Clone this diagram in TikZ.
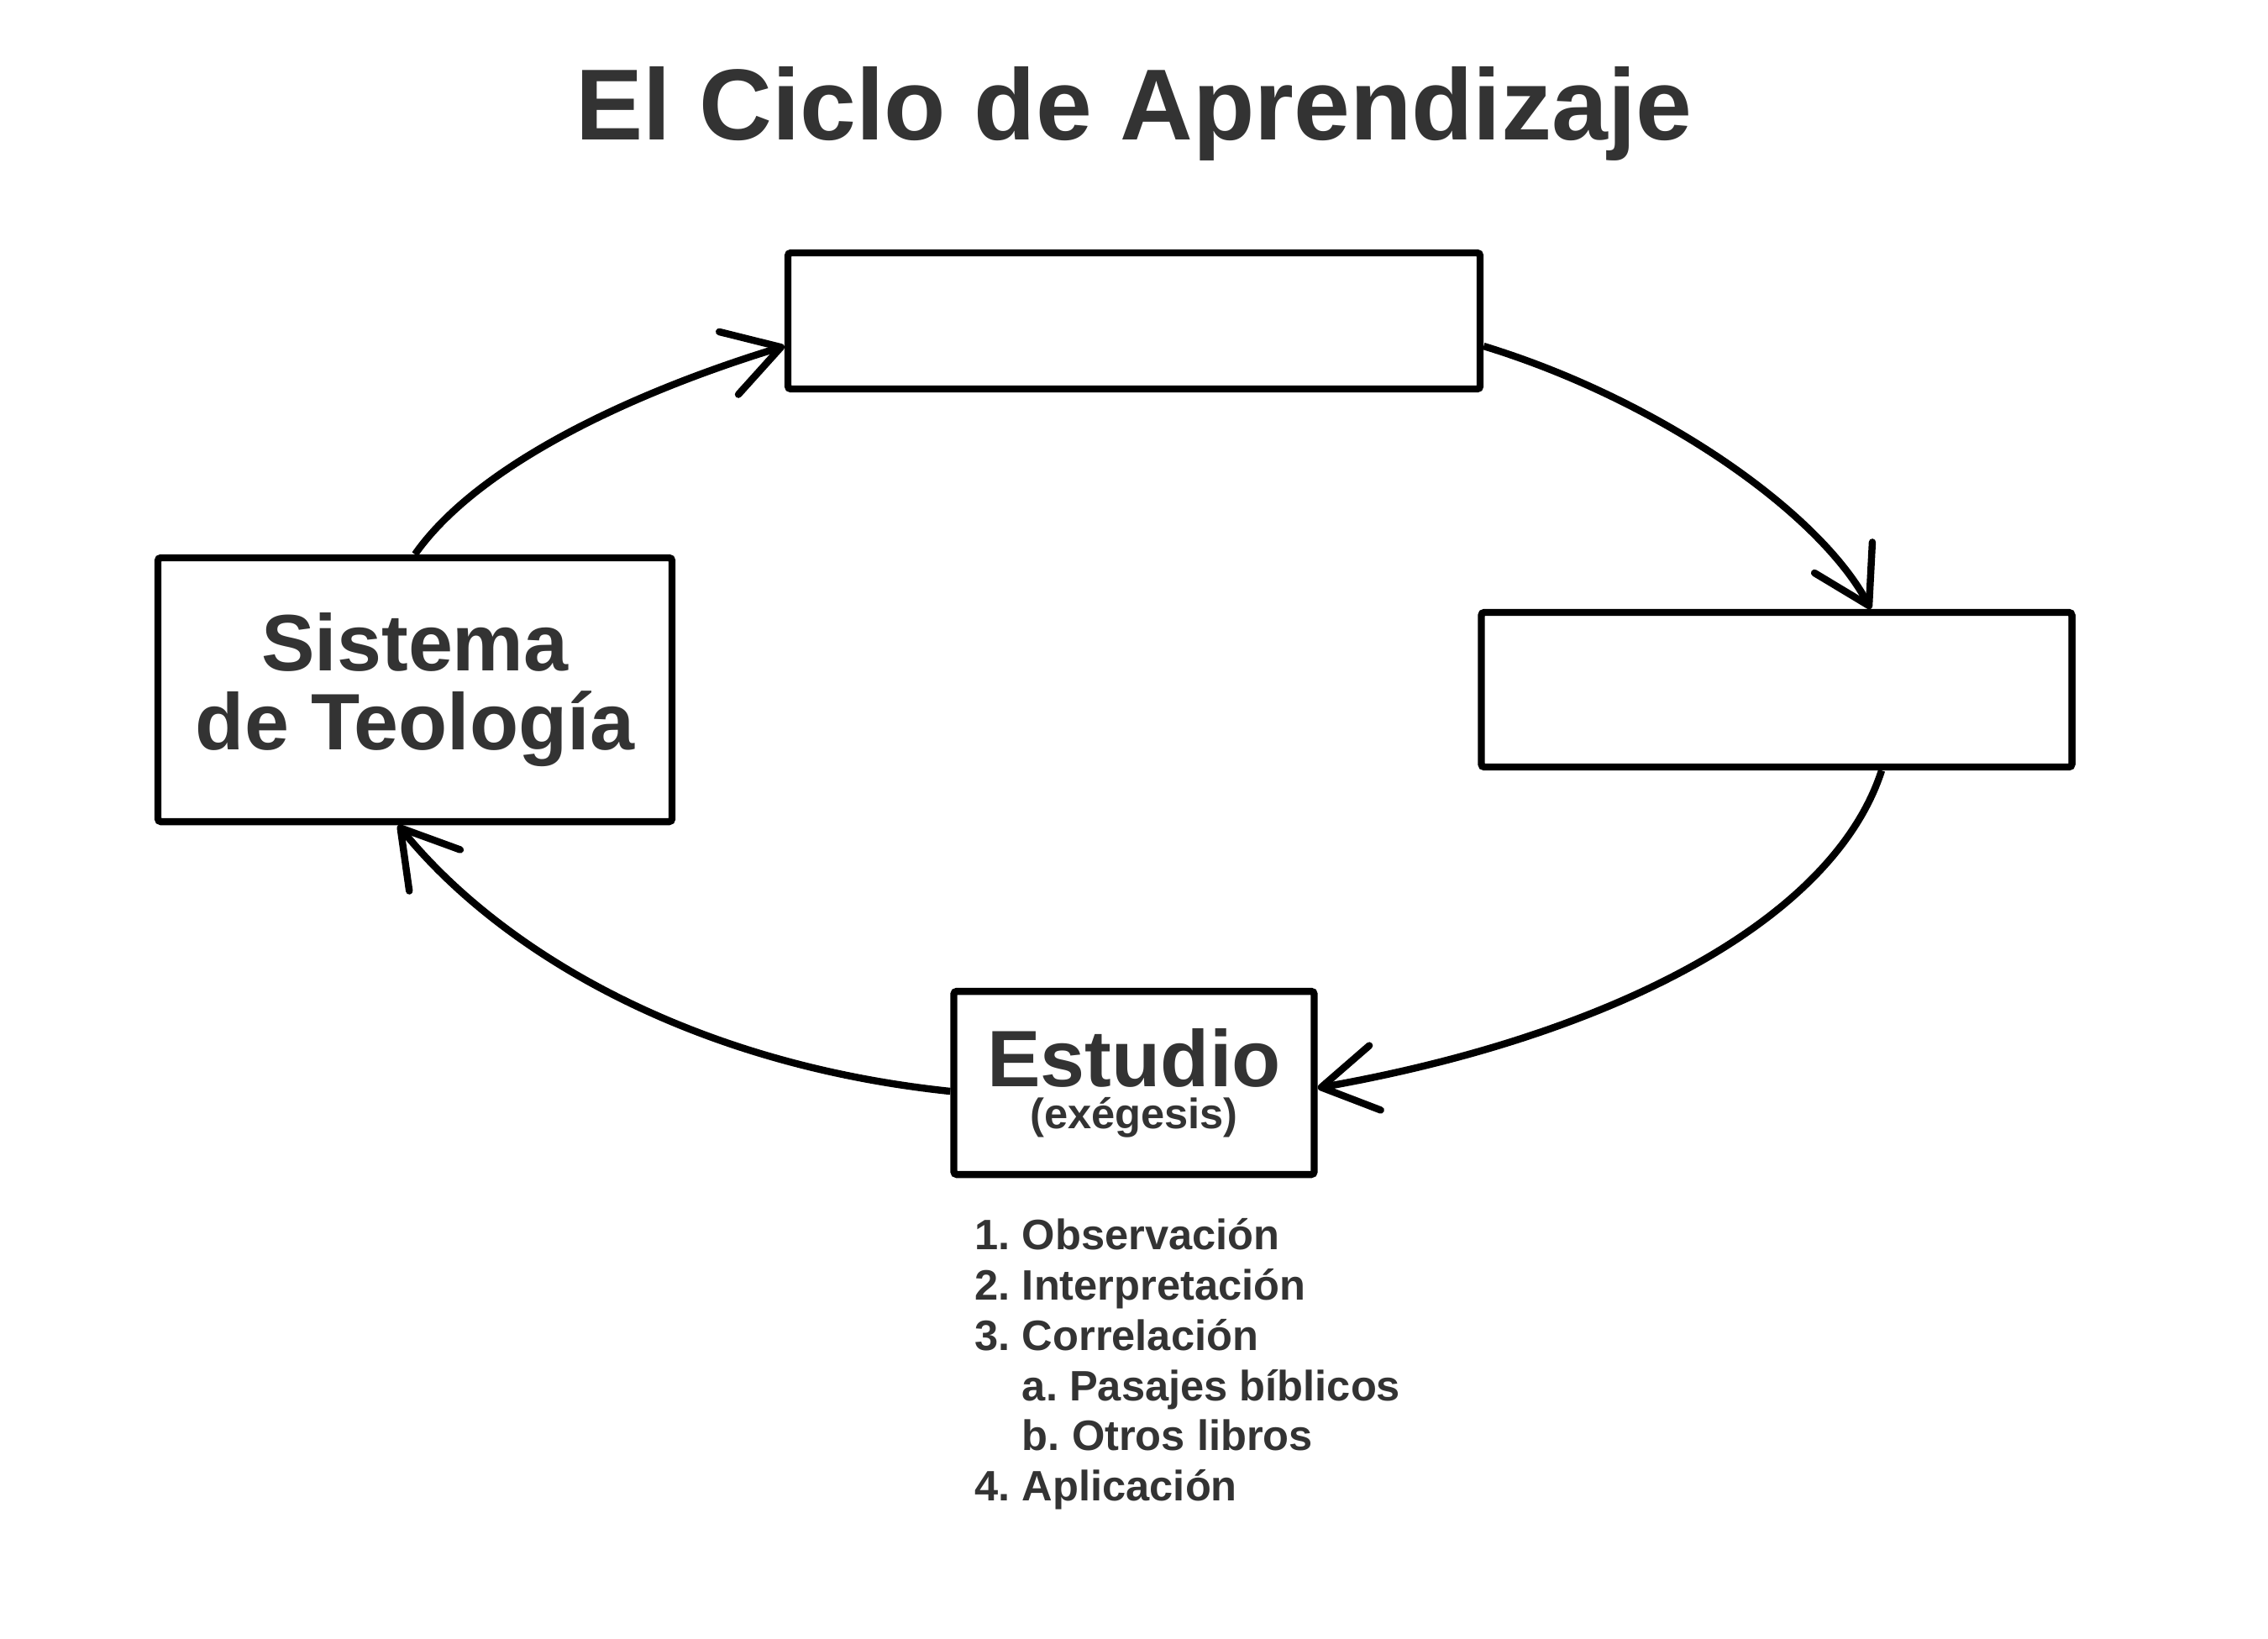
\documentclass[tikz,border=0pt]{standalone}
\usepackage{fontspec}
\setmainfont{Liberation Sans}
\usetikzlibrary{arrows.meta,positioning,calc}
\definecolor{textgray}{HTML}{333333}
\frenchspacing

\begin{document}
\begin{tikzpicture}[
    box/.style={draw, line width=2.4pt, rounded corners=1pt, inner sep=0pt, align=center, text=textgray},
    flow/.style={-{Straight Barb[length=6.5mm, width=7.8mm, round]}, line width=2.4pt}
    ]
        \useasboundingbox (0,0) rectangle (27,-19.5);
        % Title
        \node [anchor=base, text=textgray, font=\fontsize{34.2}{40}\selectfont\bfseries] (title) at (13.5,-1.66) {El Ciclo de Aprendizaje};
        % Boxes
        \node [box, minimum width=8.24cm, minimum height=1.62cm] (top) at (13.5,-3.82) {};
        \node [box, minimum width=7.03cm, minimum height=1.84cm] (right) at (21.15,-8.21) {};
        \node [box, minimum width=6.12cm, minimum height=3.14cm, font=\fontsize{27.1}{26.7}\selectfont\bfseries] (sys) at (4.94,-8.21) {Sistema\\de Teología};
        \node [box, minimum width=4.29cm, minimum height=2.18cm, font=\fontsize{27.1}{14.2}\selectfont\bfseries] (study) at (13.5,-12.89) {Estudio\\{\fontsize{14.4}{14.2}\selectfont (exégesis)}};
        % Arrows
        \draw [flow] (sys.north) to [out=55, in=197, out looseness=0.64, in looseness=1.0] ([yshift=-0.30cm]top.west);
        \draw [flow] ([yshift=-0.30cm]top.east) to [out=-17, in=118, out looseness=1.0, in looseness=0.6] ([xshift=1.12cm]right.north);
        \draw [flow] ([xshift=1.25cm]right.south) to [out=-108, in=10, out looseness=0.65, in looseness=1.12] ([yshift=-0.06cm]study.east);
        \draw [flow] ([yshift=-0.10cm]study.west) to [out=174, in=-51, out looseness=1.11, in looseness=0.66] ([xshift=-0.2cm]sys.south);
        % List
        \node [anchor=north west, inner sep=0pt, align=left, text=textgray, font=\fontsize{14.4}{17}\selectfont\bfseries] (steps) at (11.60,-14.50)
            {1. Observación\\2. Interpretación\\3. Correlación\\\hphantom{1. }a. Pasajes bíblicos\\\hphantom{1. }b. Otros libros\\4. Aplicación};
\end{tikzpicture}
\end{document}
